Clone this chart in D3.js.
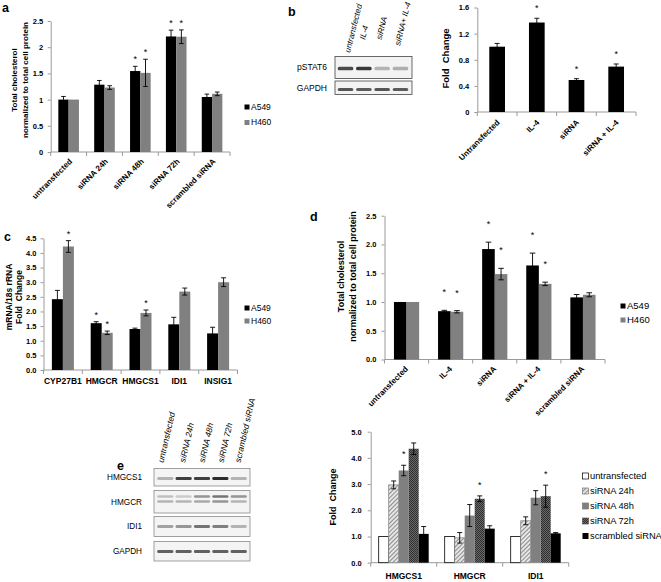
<!DOCTYPE html>
<html><head><meta charset="utf-8">
<script src="https://cdn.jsdelivr.net/npm/d3@7"></script>
<style>
body{margin:0;background:#fff;}
svg{display:block;}
</style></head><body>
<svg id="fig" width="661" height="582"></svg>
<script>
// ---------- Panel a data ----------
const aCategories = ["untransfected","siRNA 24h","siRNA 48h","siRNA 72h","scrambled siRNA"];
const aA549 = [1.00,1.285,1.545,2.205,1.05];
const aA549Err = [0.06,0.08,0.09,0.12,0.055];
const aH460 = [1.00,1.23,1.51,2.20,1.11];
const aH460Err = [0,0.035,0.26,0.13,0.035];
const aA549Star = [0,0,1,1,0];
const aH460Star = [0,0,1,1,0];
const aTicks = [0,0.5,1,1.5,2,2.5];
const aTickLabels = ["0","0.5","1","1.5","2","2.5"];
const cellLines = ["A549","H460"];

// ---------- Panel b data ----------
const bCategories = ["Untransfected","IL-4","siRNA","siRNA + IL-4"];
const bValues = [1.00,1.37,0.49,0.695];
const bErr = [0.05,0.065,0.02,0.04];
const bStar = [0,1,1,1];
const bTicks = [0,0.4,0.8,1.2,1.6];
const bTickLabels = ["0","0.4","0.8","1.2","1.6"];
const bLanes = ["untransfected","IL-4","siRNA","siRNA+ IL-4"];
const bRows = ["pSTAT6","GAPDH"];
const bPstat6 = [0.8,0.9,0.3,0.32];
const bGapdh = [0.75,0.72,0.75,0.72];

// ---------- Panel c data ----------
const cCategories = ["CYP27B1","HMGCR","HMGCS1","IDI1","INSIG1"];
const cA549 = [2.42,1.60,1.40,1.56,1.25];
const cA549Err = [0.30,0.05,0.03,0.24,0.21];
const cH460 = [4.22,1.27,1.95,2.68,3.00];
const cH460Err = [0.20,0.06,0.10,0.12,0.15];
const cA549Star = [0,1,0,0,0];
const cH460Star = [1,1,1,0,0];
const cTicks = [0,0.5,1,1.5,2,2.5,3,3.5,4,4.5];
const cTickLabels = ["0.0","0.5","1.0","1.5","2.0","2.5","3.0","3.5","4.0","4.5"];

// ---------- Panel d data ----------
const dCategories = ["untransfected","IL-4","siRNA","siRNA + IL-4","scrambled siRNA"];
const dA549 = [1.00,0.84,1.92,1.635,1.08];
const dA549Err = [0,0.015,0.12,0.215,0.05];
const dH460 = [1.00,0.83,1.485,1.315,1.125];
const dH460Err = [0,0.02,0.10,0.03,0.035];
const dA549Star = [0,1,1,1,0];
const dH460Star = [0,1,1,1,0];
const dTicks = [0,0.5,1,1.5,2,2.5];
const dTickLabels = ["0.0","0.5","1.0","1.5","2.0","2.5"];

// ---------- Panel e data ----------
const eCategories = ["HMGCS1","HMGCR","IDI1"];
const eSeriesNames = ["untransfected","siRNA 24h","siRNA 48h","siRNA 72h","scrambled siRNA"];
const eUntrans = [1.00,1.00,1.00];
const eUntransErr = [0,0,0];
const e24 = [2.97,0.95,1.60];
const e24Err = [0.15,0.20,0.15];
const e48 = [3.52,1.80,2.48];
const e48Err = [0.20,0.42,0.27];
const e72 = [4.35,2.44,2.54];
const e72Err = [0.22,0.11,0.42];
const eScr = [1.10,1.30,1.12];
const eScrErr = [0.28,0.11,0.03];
const e48Star = [1,0,0];
const e72Star = [0,1,1];
const eTicks = [0,1,2,3,4,5];
const eTickLabels = ["0.0","1.0","2.0","3.0","4.0","5.0"];
const eLanes = ["untransfected","siRNA 24h","siRNA 48h","siRNA 72h","scrambled siRNA"];
const eRows = ["HMGCS1","HMGCR","IDI1","GAPDH"];
const eHmgcs1 = [0.3,0.85,0.85,0.95,0.3];
const eHmgcrUpper = [0.25,0.2,0.45,0.6,0.45];
const eHmgcrLower = [0.3,0.3,0.35,0.45,0.3];
const eIdi1 = [0.4,0.45,0.6,0.55,0.3];
const eGapdh = [0.7,0.7,0.7,0.7,0.7];

// ---------- drawing ----------
const FONT = '"Liberation Sans", Arial, Helvetica, sans-serif';
const AXIS = "#9a9a9a";
const svg = d3.select("#fig").attr("font-family", FONT);
const defs = svg.append("defs");
defs.append("filter").attr("id","blur").append("feGaussianBlur").attr("stdDeviation",0.7);
const p24 = defs.append("pattern").attr("id","p24").attr("patternUnits","userSpaceOnUse")
  .attr("width",3).attr("height",3).attr("patternTransform","rotate(45)");
p24.append("rect").attr("width",3).attr("height",3).attr("fill","#e6e6e6");
p24.append("rect").attr("width",1).attr("height",3).attr("fill","#8c8c8c");
const p72 = defs.append("pattern").attr("id","p72").attr("patternUnits","userSpaceOnUse")
  .attr("width",2).attr("height",2);
p72.append("rect").attr("width",2).attr("height",2).attr("fill","#6a6a6a");
p72.append("rect").attr("width",1).attr("height",1).attr("fill","#2e2e2e");
p72.append("rect").attr("x",1).attr("y",1).attr("width",1).attr("height",1).attr("fill","#2e2e2e");

function barChart(o){
  const g = svg.append("g");
  const x = d3.scaleBand().domain(o.categories).range([o.x0,o.x1]);
  const y = d3.scaleLinear().domain([0,o.yMax]).range([o.y0,o.yMaxPx]);
  const yAxis = d3.axisLeft(y).tickValues(o.ticks).tickFormat((d,i)=>o.tickLabels[i])
    .tickSizeInner(3).tickSizeOuter(0).tickPadding(o.tickPad);
  const ya = g.append("g").attr("transform",`translate(${o.x0},0)`).call(yAxis)
    .attr("font-family",FONT).attr("font-size",o.tickFont).attr("font-weight","bold");
  ya.select(".domain").attr("stroke",AXIS);
  ya.selectAll(".tick line").attr("stroke",AXIS);
  ya.selectAll(".tick text").attr("fill","#000");
  g.append("line").attr("x1",o.x0).attr("x2",o.x1).attr("y1",y(0)).attr("y2",y(0)).attr("stroke",AXIS);
  const bounds = o.categories.map(c=>x(c)).concat([o.x1]);
  g.append("g").selectAll("line").data(bounds).join("line")
    .attr("x1",d=>d).attr("x2",d=>d).attr("y1",y(0)).attr("y2",y(0)+4).attr("stroke",AXIS);
  const n = o.series.length;
  o.series.forEach((s,i)=>{
    const off = (i - n/2)*o.barW;
    const bx = c => x(c)+x.bandwidth()/2+off;
    g.append("g").selectAll("rect").data(o.categories).join("rect")
      .attr("x",bx).attr("y",(c,j)=>y(s.values[j])).attr("width",o.barW)
      .attr("height",(c,j)=>y(0)-y(s.values[j]))
      .attr("fill",s.fill).attr("stroke",s.stroke||null).attr("stroke-width",s.stroke?0.8:null);
  });
  o.series.forEach((s,i)=>{
    const off = (i - n/2)*o.barW;
    const eg = g.append("g").attr("stroke","#000").attr("stroke-width",0.9);
    o.categories.forEach((c,j)=>{
      const cx = x(c)+x.bandwidth()/2+off+o.barW/2;
      const e = s.errs[j];
      const top = y(s.values[j]+e);
      if(e){
        const bot = y(s.values[j]-e);
        eg.append("line").attr("x1",cx).attr("x2",cx).attr("y1",top).attr("y2",bot);
        eg.append("line").attr("x1",cx-o.cap).attr("x2",cx+o.cap).attr("y1",top).attr("y2",top);
        eg.append("line").attr("x1",cx-o.cap).attr("x2",cx+o.cap).attr("y1",bot).attr("y2",bot);
      }
      if(s.stars && s.stars[j]){
        g.append("text").attr("x",cx).attr("y",top-o.starOff+5).attr("text-anchor","middle")
          .attr("font-size",9).text("*");
      }
    });
  });
  const lg = g.append("g").attr("font-size",o.catFont).attr("font-weight","bold");
  if(o.rotate){
    lg.selectAll("text").data(o.categories).join("text")
      .attr("transform",c=>`translate(${x(c)+x.bandwidth()/2+o.labDx},${y(0)+o.labDy}) rotate(-45)`)
      .attr("text-anchor","end").text(c=>c);
  } else {
    lg.selectAll("text").data(o.categories).join("text")
      .attr("x",c=>x(c)+x.bandwidth()/2).attr("y",y(0)+o.labDy)
      .attr("text-anchor","middle").text(c=>c);
  }
  return {x,y,g};
}

function yTitle(lines, cx, cy, size, gap){
  const g = svg.append("g").attr("transform",`translate(${cx},${cy}) rotate(-90)`)
    .attr("font-size",size).attr("font-weight","bold");
  lines.forEach((t,i)=>{
    g.append("text").attr("x",0).attr("y",(i-(lines.length-1)/2)*gap).attr("dy","0.35em")
      .attr("text-anchor","middle").style("white-space","pre").text(t);
  });
}
function legend(names, fills, strokes, x, ys, size, sq){
  names.forEach((nm,i)=>{
    svg.append("rect").attr("x",x).attr("y",ys[i]-sq/2).attr("width",sq).attr("height",sq)
      .attr("fill",fills[i]).attr("stroke",strokes[i]||null).attr("stroke-width",strokes[i]?0.7:null);
    svg.append("text").attr("x",x+sq+1.5).attr("y",ys[i]).attr("dy","0.35em")
      .attr("font-size",size).text(nm);
  });
}
function letter(t,x,y){
  svg.append("text").attr("x",x).attr("y",y).attr("font-size",12.5).attr("font-weight","bold").text(t);
}

// Panel a
barChart({categories:aCategories,x0:50.7,x1:230,y0:152,yMax:2.5,yMaxPx:21,
  ticks:aTicks,tickLabels:aTickLabels,tickFont:7.5,tickPad:4.5,barW:10.3,cap:2.3,starOff:9,
  rotate:true,labDx:4,labDy:10,catFont:8,
  series:[{values:aA549,errs:aA549Err,stars:aA549Star,fill:"#000"},
          {values:aH460,errs:aH460Err,stars:aH460Star,fill:"#808080"}]});
yTitle(["Total cholesterol","normalized to total cell protein"],19.5,80,8,10.5);
legend(cellLines,["#000","#808080"],[],244.5,[107,122.5],8.5,5);
letter("a",2,12);

// Panel b chart
barChart({categories:bCategories,x0:477.3,x1:636,y0:112,yMax:1.6,yMaxPx:7.5,
  ticks:bTicks,tickLabels:bTickLabels,tickFont:7.5,tickPad:5,barW:15.7,cap:2.5,starOff:12,
  rotate:true,labDx:3,labDy:11,catFont:8,
  series:[{values:bValues,errs:bErr,stars:bStar,fill:"#000"}]});
yTitle(["Fold  Change"],446,58.5,9.5,10);
letter("b",288,15.5);

// Panel b blot
(function(){
  const lane = d3.scaleBand().domain(bLanes).range([335,411]).padding(0.15);
  const boxes = [{row:bRows[0],y:56.5,h:22,vals:bPstat6,by:68.5,bh:3.5},
                 {row:bRows[1],y:81,h:13.5,vals:bGapdh,by:89.5,bh:3}];
  boxes.forEach(b=>{
    svg.append("rect").attr("x",335).attr("y",b.y).attr("width",77).attr("height",b.h)
      .attr("fill","#f3f3f3").attr("stroke","#444").attr("stroke-width",0.8);
    svg.append("g").attr("filter","url(#blur)").selectAll("rect").data(bLanes).join("rect")
      .attr("x",l=>lane(l)).attr("y",b.by-b.bh/2).attr("width",lane.bandwidth()).attr("height",b.bh)
      .attr("rx",1.5).attr("fill","#222").attr("opacity",(l,i)=>b.vals[i]);
    svg.append("text").attr("x",327).attr("y",b.y+b.h/2).attr("dy","0.35em").attr("text-anchor","end")
      .attr("font-size",8.5).text(b.row);
  });
  const lab = [[350,53],[365,40],[381.5,40],[400,46]];
  svg.append("g").attr("font-size",8.2).attr("font-style","italic").selectAll("text").data(bLanes).join("text")
    .attr("transform",(l,i)=>`translate(${lab[i][0]},${lab[i][1]}) rotate(-76)`).text(l=>l);
})();

// Panel c
barChart({categories:cCategories,x0:43.5,x1:237.5,y0:370,yMax:4.5,yMaxPx:238.3,
  ticks:cTicks,tickLabels:cTickLabels,tickFont:7.5,tickPad:4,barW:11,cap:2.5,starOff:9,
  rotate:false,labDy:14,catFont:8.5,
  series:[{values:cA549,errs:cA549Err,stars:cA549Star,fill:"#000"},
          {values:cH460,errs:cH460Err,stars:cH460Star,fill:"#808080"}]});
yTitle(["mRNA/18s rRNA","Fold  Change"],14,297,8.5,10);
legend(cellLines,["#000","#808080"],[],244.5,[308,321],8.5,5);
letter("c",4,241);

// Panel d
barChart({categories:dCategories,x0:384.5,x1:605,y0:359.5,yMax:2.5,yMaxPx:215.7,
  ticks:dTicks,tickLabels:dTickLabels,tickFont:7.5,tickPad:5,barW:12.6,cap:2.8,starOff:20,
  rotate:true,labDx:2,labDy:10,catFont:8,
  series:[{values:dA549,errs:dA549Err,stars:dA549Star,fill:"#000"},
          {values:dH460,errs:dH460Err,stars:dH460Star,fill:"#808080"}]});
yTitle(["Total cholesterol","normalized to total cell protein"],346.5,276.5,9,12);
legend(cellLines,["#000","#808080"],[],620.5,[306,320],9.5,5);
letter("d",310,221);

// Panel e chart
const eFills = ["#fff","url(#p24)","#808080","url(#p72)","#000"];
const eStrokes = ["#000","#8c8c8c",null,null,null];
barChart({categories:eCategories,x0:370.7,x1:568.7,y0:562.7,yMax:5,yMaxPx:431.7,
  ticks:eTicks,tickLabels:eTickLabels,tickFont:7.5,tickPad:6,barW:10,cap:2.5,starOff:13,
  rotate:false,labDy:16,catFont:8.5,
  series:[{values:eUntrans,errs:eUntransErr,fill:eFills[0],stroke:eStrokes[0]},
          {values:e24,errs:e24Err,fill:eFills[1],stroke:eStrokes[1]},
          {values:e48,errs:e48Err,stars:e48Star,fill:eFills[2]},
          {values:e72,errs:e72Err,stars:e72Star,fill:eFills[3]},
          {values:eScr,errs:eScrErr,fill:eFills[4]}]});
yTitle(["Fold  Change"],332.5,497,9,10);
legend(eSeriesNames,eFills,["#000","#777","#777","#555",null],582.5,[476,491,506,521,536],9.3,6);
letter("e",117,470);

// Panel e blot
(function(){
  const lane = d3.scaleBand().domain(eLanes).range([155,249]).padding(0.12);
  const boxes = [{row:eRows[0],y:468.5,h:17.5,bands:[{y:478.5,v:eHmgcs1,h:3}]},
                 {row:eRows[1],y:490.5,h:22.5,bands:[{y:496.5,v:eHmgcrUpper,h:2.5},{y:501.5,v:eHmgcrLower,h:2.5}]},
                 {row:eRows[2],y:516.5,h:20,bands:[{y:526.5,v:eIdi1,h:2.8}]},
                 {row:eRows[3],y:541.5,h:19.5,bands:[{y:551.5,v:eGapdh,h:3}]}];
  boxes.forEach(b=>{
    svg.append("rect").attr("x",154).attr("y",b.y).attr("width",96).attr("height",b.h)
      .attr("fill","#f4f4f4").attr("stroke","#8a8a8a").attr("stroke-width",0.8);
    b.bands.forEach(bd=>{
      svg.append("g").attr("filter","url(#blur)").selectAll("rect").data(eLanes).join("rect")
        .attr("x",l=>lane(l)).attr("y",bd.y-bd.h/2).attr("width",lane.bandwidth()).attr("height",bd.h)
        .attr("rx",1.3).attr("fill","#222").attr("opacity",(l,i)=>bd.v[i]);
    });
    svg.append("text").attr("x",142).attr("y",b.y+b.h/2).attr("dy","0.35em").attr("text-anchor","end")
      .attr("font-size",8.2).text(b.row);
  });
  const lab = [[163.5,463],[185,463],[204.5,463],[223.5,463],[240.5,463]];
  svg.append("g").attr("font-size",8.5).attr("font-style","italic").selectAll("text").data(eLanes).join("text")
    .attr("transform",(l,i)=>`translate(${lab[i][0]},${lab[i][1]}) rotate(-77)`).text(l=>l);
})();
</script>
</body></html>
